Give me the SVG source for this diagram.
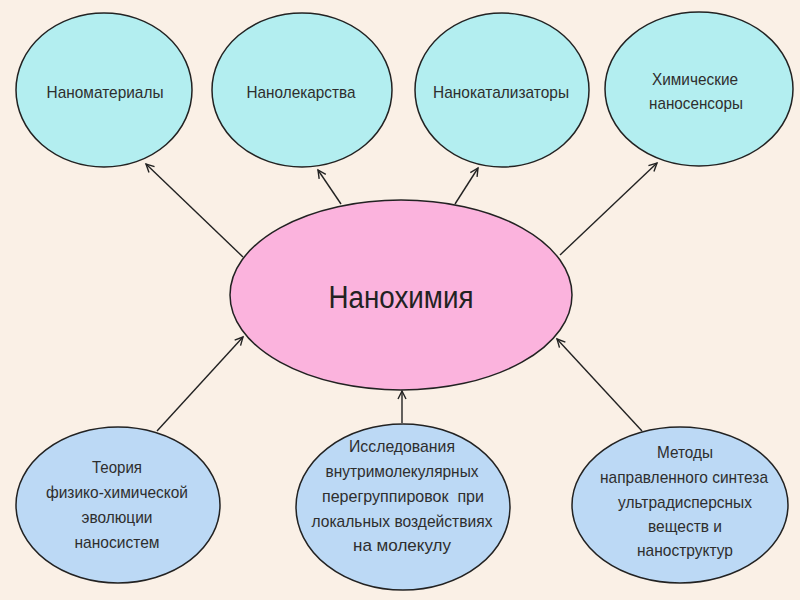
<svg xmlns="http://www.w3.org/2000/svg" width="800" height="600" viewBox="0 0 800 600">
<defs>
<style>
.top{fill:#b3eef0;stroke:#222;stroke-width:1.5}
.bot{fill:#bcd9f5;stroke:#222;stroke-width:1.5}
.mid{fill:#fbb3dd;stroke:#222;stroke-width:1.5}
text{font-family:"Liberation Sans",Arial,sans-serif;fill:#2e2e2e;text-anchor:middle}
.t{font-size:17px}
.b{font-size:17px}
.c{font-size:31px;fill:#222}
.edge{stroke:#222;stroke-width:1.4;fill:none;marker-end:url(#arr)}
</style>
<marker id="arr" markerUnits="userSpaceOnUse" markerWidth="12" markerHeight="12" refX="9" refY="5" orient="auto">
<path d="M1,1 L9,5 L1,9" fill="none" stroke="#222" stroke-width="1.4"/>
</marker>
</defs>
<rect width="800" height="600" fill="#faf0e6"/>
<g id="connectors">
<line class="edge" x1="243" y1="257" x2="146" y2="164"/>
<line class="edge" x1="341" y1="204" x2="318" y2="170"/>
<line class="edge" x1="455" y1="204" x2="478" y2="168"/>
<line class="edge" x1="560" y1="255" x2="657" y2="163"/>
<line class="edge" x1="157" y1="431" x2="243" y2="337"/>
<line class="edge" x1="402" y1="423" x2="402" y2="391"/>
<line class="edge" x1="642" y1="431" x2="557" y2="339"/>
</g>
<g id="n-nanomaterialy">
<ellipse class="top" cx="104" cy="90" rx="88" ry="77"/>
<text class="t" x="105" y="98" textLength="117" lengthAdjust="spacingAndGlyphs">Наноматериалы</text>
</g>
<g id="n-nanolekarstva">
<ellipse class="top" cx="302" cy="90" rx="90" ry="77"/>
<text class="t" x="301" y="98" textLength="109" lengthAdjust="spacingAndGlyphs">Нанолекарства</text>
</g>
<g id="n-nanokatalizatory">
<ellipse class="top" cx="502" cy="90" rx="87" ry="77"/>
<text class="t" x="501" y="98" textLength="136" lengthAdjust="spacingAndGlyphs">Нанокатализаторы</text>
</g>
<g id="n-nanosensory">
<ellipse class="top" cx="699" cy="89" rx="94" ry="77"/>
<text class="t" x="695" y="85" textLength="86" lengthAdjust="spacingAndGlyphs">Химические</text>
<text class="t" x="696" y="109" textLength="94" lengthAdjust="spacingAndGlyphs">наносенсоры</text>
</g>
<g id="n-nanohimiya">
<ellipse class="mid" cx="401" cy="295" rx="171" ry="95"/>
<text class="c" x="401" y="308" textLength="145" lengthAdjust="spacingAndGlyphs">Нанохимия</text>
</g>
<g id="n-teoriya">
<ellipse class="bot" cx="118" cy="505" rx="102" ry="78"/>
<text class="b" x="117" y="473" textLength="50" lengthAdjust="spacingAndGlyphs">Теория</text>
<text class="b" x="117" y="498" textLength="142" lengthAdjust="spacingAndGlyphs">физико-химической</text>
<text class="b" x="117" y="523" textLength="71" lengthAdjust="spacingAndGlyphs">эволюции</text>
<text class="b" x="117" y="548" textLength="85" lengthAdjust="spacingAndGlyphs">наносистем</text>
</g>
<g id="n-issledovaniya">
<ellipse class="bot" cx="403" cy="507" rx="107" ry="83"/>
<text class="b" x="402" y="452" textLength="106" lengthAdjust="spacingAndGlyphs">Исследования</text>
<text class="b" x="402" y="477" textLength="153" lengthAdjust="spacingAndGlyphs">внутримолекулярных</text>
<text class="b" x="403" y="502" textLength="162" lengthAdjust="spacingAndGlyphs" xml:space="preserve">перегруппировок  при</text>
<text class="b" x="402" y="527" textLength="181" lengthAdjust="spacingAndGlyphs">локальных воздействиях</text>
<text class="b" x="402" y="551" textLength="98" lengthAdjust="spacingAndGlyphs">на молекулу</text>
</g>
<g id="n-metody">
<ellipse class="bot" cx="680" cy="505" rx="108" ry="78"/>
<text class="b" x="685" y="458" textLength="56" lengthAdjust="spacingAndGlyphs">Методы</text>
<text class="b" x="684" y="483" textLength="168" lengthAdjust="spacingAndGlyphs">направленного синтеза</text>
<text class="b" x="685" y="508" textLength="134" lengthAdjust="spacingAndGlyphs">ультрадисперсных</text>
<text class="b" x="685" y="532" textLength="74" lengthAdjust="spacingAndGlyphs">веществ и</text>
<text class="b" x="685" y="556" textLength="96" lengthAdjust="spacingAndGlyphs">наноструктур</text>
</g>
</svg>
